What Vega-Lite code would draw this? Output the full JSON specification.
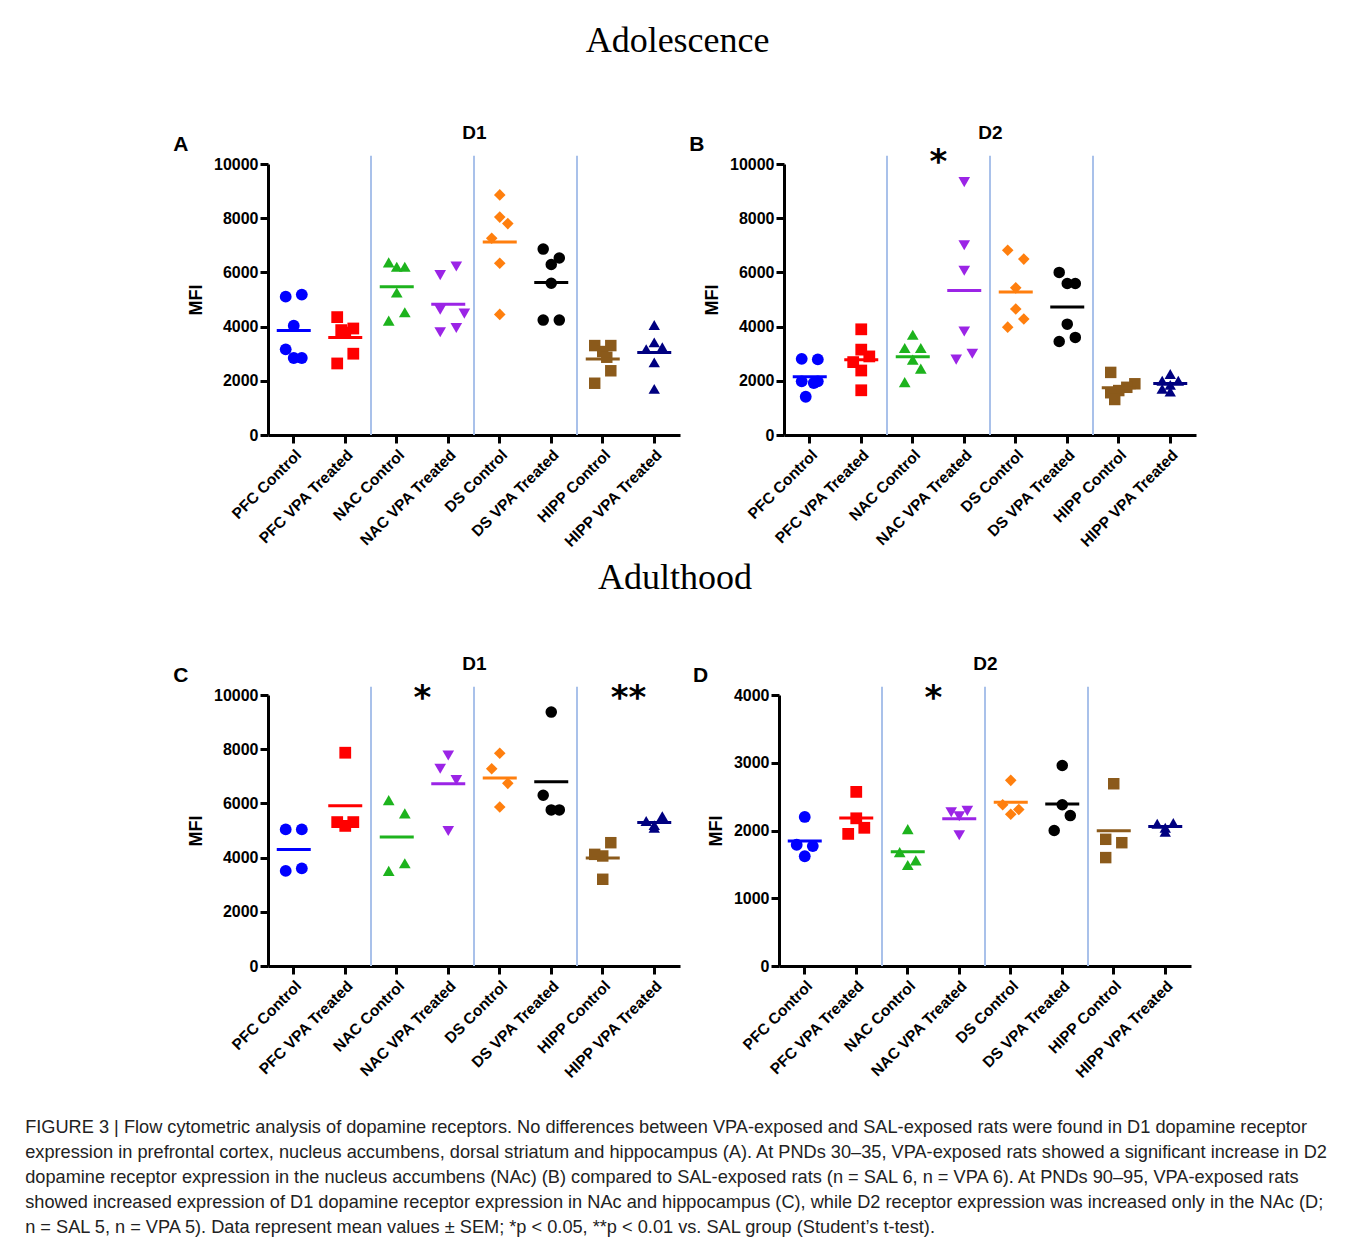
{
  "$schema": "https://vega.github.io/schema/vega-lite/v6.json",
  "background": "white",
  "padding": {"left": 25, "top": 23, "right": 0, "bottom": 0},
  "config": {
    "view": {"stroke": null},
    "font": "Liberation Sans",
    "axis": {"domainColor": "black", "domainWidth": 3, "tickColor": "black", "tickWidth": 3, "tickSize": 8, "labelFont": "Liberation Sans", "labelFontWeight": "bold", "labelColor": "black", "grid": false, "titleFont": "Liberation Sans", "titleFontWeight": "bold", "titleColor": "black"}
  },
  "datasets": {
    "pts": [
      {"panel":"A","group":"PFC Control","v":5105,"slot":-1},{"panel":"A","group":"PFC Control","v":5180,"slot":1},{"panel":"A","group":"PFC Control","v":4030,"slot":0},{"panel":"A","group":"PFC Control","v":3160,"slot":-1},{"panel":"A","group":"PFC Control","v":2840,"slot":0},{"panel":"A","group":"PFC Control","v":2840,"slot":1},
      {"panel":"A","group":"PFC VPA Treated","v":4350,"slot":-1},{"panel":"A","group":"PFC VPA Treated","v":3870,"slot":-0.5},{"panel":"A","group":"PFC VPA Treated","v":3930,"slot":1},{"panel":"A","group":"PFC VPA Treated","v":3780,"slot":0},{"panel":"A","group":"PFC VPA Treated","v":3000,"slot":1},{"panel":"A","group":"PFC VPA Treated","v":2640,"slot":-1},
      {"panel":"A","group":"NAC Control","v":6370,"slot":-1},{"panel":"A","group":"NAC Control","v":6210,"slot":0},{"panel":"A","group":"NAC Control","v":6210,"slot":1},{"panel":"A","group":"NAC Control","v":5260,"slot":0},{"panel":"A","group":"NAC Control","v":4530,"slot":1},{"panel":"A","group":"NAC Control","v":4220,"slot":-1},
      {"panel":"A","group":"NAC VPA Treated","v":6220,"slot":1},{"panel":"A","group":"NAC VPA Treated","v":5900,"slot":-1},{"panel":"A","group":"NAC VPA Treated","v":4620,"slot":-1},{"panel":"A","group":"NAC VPA Treated","v":4480,"slot":2},{"panel":"A","group":"NAC VPA Treated","v":3950,"slot":1},{"panel":"A","group":"NAC VPA Treated","v":3790,"slot":-1},
      {"panel":"A","group":"DS Control","v":8860,"slot":0},{"panel":"A","group":"DS Control","v":8040,"slot":0},{"panel":"A","group":"DS Control","v":7800,"slot":1},{"panel":"A","group":"DS Control","v":7260,"slot":-1},{"panel":"A","group":"DS Control","v":6340,"slot":0},{"panel":"A","group":"DS Control","v":4450,"slot":0},
      {"panel":"A","group":"DS VPA Treated","v":6860,"slot":-1},{"panel":"A","group":"DS VPA Treated","v":6530,"slot":1},{"panel":"A","group":"DS VPA Treated","v":6290,"slot":0},{"panel":"A","group":"DS VPA Treated","v":5600,"slot":0},{"panel":"A","group":"DS VPA Treated","v":4240,"slot":-1},{"panel":"A","group":"DS VPA Treated","v":4240,"slot":1},
      {"panel":"A","group":"HIPP Control","v":3300,"slot":-1},{"panel":"A","group":"HIPP Control","v":3300,"slot":1},{"panel":"A","group":"HIPP Control","v":3080,"slot":0},{"panel":"A","group":"HIPP Control","v":2870,"slot":0.5},{"panel":"A","group":"HIPP Control","v":2370,"slot":1},{"panel":"A","group":"HIPP Control","v":1910,"slot":-1},
      {"panel":"A","group":"HIPP VPA Treated","v":4060,"slot":0},{"panel":"A","group":"HIPP VPA Treated","v":3420,"slot":0},{"panel":"A","group":"HIPP VPA Treated","v":3240,"slot":1},{"panel":"A","group":"HIPP VPA Treated","v":3170,"slot":-1},{"panel":"A","group":"HIPP VPA Treated","v":2680,"slot":0},{"panel":"A","group":"HIPP VPA Treated","v":1700,"slot":0},

      {"panel":"B","group":"PFC Control","v":2810,"slot":-1},{"panel":"B","group":"PFC Control","v":2790,"slot":1},{"panel":"B","group":"PFC Control","v":1980,"slot":-1},{"panel":"B","group":"PFC Control","v":1980,"slot":1},{"panel":"B","group":"PFC Control","v":1920,"slot":0.5},{"panel":"B","group":"PFC Control","v":1410,"slot":-0.5},
      {"panel":"B","group":"PFC VPA Treated","v":3900,"slot":0},{"panel":"B","group":"PFC VPA Treated","v":3150,"slot":0},{"panel":"B","group":"PFC VPA Treated","v":2900,"slot":1},{"panel":"B","group":"PFC VPA Treated","v":2690,"slot":-1},{"panel":"B","group":"PFC VPA Treated","v":2380,"slot":0},{"panel":"B","group":"PFC VPA Treated","v":1650,"slot":0},
      {"panel":"B","group":"NAC Control","v":3700,"slot":0},{"panel":"B","group":"NAC Control","v":3210,"slot":-1},{"panel":"B","group":"NAC Control","v":3210,"slot":1},{"panel":"B","group":"NAC Control","v":2780,"slot":0},{"panel":"B","group":"NAC Control","v":2450,"slot":1},{"panel":"B","group":"NAC Control","v":1950,"slot":-1},
      {"panel":"B","group":"NAC VPA Treated","v":9330,"slot":0},{"panel":"B","group":"NAC VPA Treated","v":7000,"slot":0},{"panel":"B","group":"NAC VPA Treated","v":6060,"slot":0},{"panel":"B","group":"NAC VPA Treated","v":3820,"slot":0},{"panel":"B","group":"NAC VPA Treated","v":3000,"slot":1},{"panel":"B","group":"NAC VPA Treated","v":2780,"slot":-1},
      {"panel":"B","group":"DS Control","v":6820,"slot":-1},{"panel":"B","group":"DS Control","v":6490,"slot":1},{"panel":"B","group":"DS Control","v":5430,"slot":0},{"panel":"B","group":"DS Control","v":4650,"slot":0},{"panel":"B","group":"DS Control","v":4280,"slot":1},{"panel":"B","group":"DS Control","v":3980,"slot":-1},
      {"panel":"B","group":"DS VPA Treated","v":6000,"slot":-1},{"panel":"B","group":"DS VPA Treated","v":5590,"slot":0},{"panel":"B","group":"DS VPA Treated","v":5590,"slot":1},{"panel":"B","group":"DS VPA Treated","v":4090,"slot":0},{"panel":"B","group":"DS VPA Treated","v":3600,"slot":1},{"panel":"B","group":"DS VPA Treated","v":3450,"slot":-1},
      {"panel":"B","group":"HIPP Control","v":2310,"slot":-1},{"panel":"B","group":"HIPP Control","v":1890,"slot":2},{"panel":"B","group":"HIPP Control","v":1760,"slot":1},{"panel":"B","group":"HIPP Control","v":1640,"slot":0},{"panel":"B","group":"HIPP Control","v":1560,"slot":-1},{"panel":"B","group":"HIPP Control","v":1310,"slot":-0.5},
      {"panel":"B","group":"HIPP VPA Treated","v":2250,"slot":0},{"panel":"B","group":"HIPP VPA Treated","v":2000,"slot":-1},{"panel":"B","group":"HIPP VPA Treated","v":2000,"slot":1},{"panel":"B","group":"HIPP VPA Treated","v":1850,"slot":0},{"panel":"B","group":"HIPP VPA Treated","v":1700,"slot":-1},{"panel":"B","group":"HIPP VPA Treated","v":1600,"slot":0},

      {"panel":"C","group":"PFC Control","v":5040,"slot":-1},{"panel":"C","group":"PFC Control","v":5040,"slot":1},{"panel":"C","group":"PFC Control","v":3510,"slot":-1},{"panel":"C","group":"PFC Control","v":3600,"slot":1},
      {"panel":"C","group":"PFC VPA Treated","v":7870,"slot":0},{"panel":"C","group":"PFC VPA Treated","v":5310,"slot":-1},{"panel":"C","group":"PFC VPA Treated","v":5310,"slot":1},{"panel":"C","group":"PFC VPA Treated","v":5170,"slot":0},
      {"panel":"C","group":"NAC Control","v":6120,"slot":-1},{"panel":"C","group":"NAC Control","v":5630,"slot":1},{"panel":"C","group":"NAC Control","v":3790,"slot":1},{"panel":"C","group":"NAC Control","v":3510,"slot":-1},
      {"panel":"C","group":"NAC VPA Treated","v":7770,"slot":0},{"panel":"C","group":"NAC VPA Treated","v":7280,"slot":-1},{"panel":"C","group":"NAC VPA Treated","v":6860,"slot":1},{"panel":"C","group":"NAC VPA Treated","v":4980,"slot":0},
      {"panel":"C","group":"DS Control","v":7850,"slot":0},{"panel":"C","group":"DS Control","v":7280,"slot":-1},{"panel":"C","group":"DS Control","v":6740,"slot":1},{"panel":"C","group":"DS Control","v":5870,"slot":0},
      {"panel":"C","group":"DS VPA Treated","v":9370,"slot":0},{"panel":"C","group":"DS VPA Treated","v":6300,"slot":-1},{"panel":"C","group":"DS VPA Treated","v":5760,"slot":0},{"panel":"C","group":"DS VPA Treated","v":5760,"slot":1},
      {"panel":"C","group":"HIPP Control","v":4550,"slot":1},{"panel":"C","group":"HIPP Control","v":4120,"slot":-1},{"panel":"C","group":"HIPP Control","v":4060,"slot":0},{"panel":"C","group":"HIPP Control","v":3200,"slot":0},
      {"panel":"C","group":"HIPP VPA Treated","v":5530,"slot":1},{"panel":"C","group":"HIPP VPA Treated","v":5350,"slot":-1},{"panel":"C","group":"HIPP VPA Treated","v":5200,"slot":0},{"panel":"C","group":"HIPP VPA Treated","v":5100,"slot":0},

      {"panel":"D","group":"PFC Control","v":2200,"slot":0},{"panel":"D","group":"PFC Control","v":1790,"slot":-1},{"panel":"D","group":"PFC Control","v":1770,"slot":1},{"panel":"D","group":"PFC Control","v":1620,"slot":0},
      {"panel":"D","group":"PFC VPA Treated","v":2570,"slot":0},{"panel":"D","group":"PFC VPA Treated","v":2180,"slot":0},{"panel":"D","group":"PFC VPA Treated","v":2040,"slot":1},{"panel":"D","group":"PFC VPA Treated","v":1950,"slot":-1},
      {"panel":"D","group":"NAC Control","v":2020,"slot":0},{"panel":"D","group":"NAC Control","v":1680,"slot":-1},{"panel":"D","group":"NAC Control","v":1560,"slot":1},{"panel":"D","group":"NAC Control","v":1490,"slot":0},
      {"panel":"D","group":"NAC VPA Treated","v":2270,"slot":-1},{"panel":"D","group":"NAC VPA Treated","v":2290,"slot":1},{"panel":"D","group":"NAC VPA Treated","v":2210,"slot":0},{"panel":"D","group":"NAC VPA Treated","v":1930,"slot":0},
      {"panel":"D","group":"DS Control","v":2740,"slot":0},{"panel":"D","group":"DS Control","v":2380,"slot":-1},{"panel":"D","group":"DS Control","v":2310,"slot":1},{"panel":"D","group":"DS Control","v":2240,"slot":0},
      {"panel":"D","group":"DS VPA Treated","v":2960,"slot":0},{"panel":"D","group":"DS VPA Treated","v":2380,"slot":0},{"panel":"D","group":"DS VPA Treated","v":2220,"slot":1},{"panel":"D","group":"DS VPA Treated","v":2000,"slot":-1},
      {"panel":"D","group":"HIPP Control","v":2690,"slot":0},{"panel":"D","group":"HIPP Control","v":1870,"slot":-1},{"panel":"D","group":"HIPP Control","v":1820,"slot":1},{"panel":"D","group":"HIPP Control","v":1600,"slot":-1},
      {"panel":"D","group":"HIPP VPA Treated","v":2100,"slot":-1},{"panel":"D","group":"HIPP VPA Treated","v":2110,"slot":1},{"panel":"D","group":"HIPP VPA Treated","v":2040,"slot":0},{"panel":"D","group":"HIPP VPA Treated","v":1980,"slot":0}
    ],
    "seps": [{"after":"PFC VPA Treated"},{"after":"NAC VPA Treated"},{"after":"DS VPA Treated"}],
    "stars": [
      {"panel":"B","group":"NAC Control","label":"*","mfi":9670},
      {"panel":"C","group":"NAC Control","label":"*","mfi":9490},
      {"panel":"C","group":"HIPP Control","label":"**","mfi":9490},
      {"panel":"D","group":"NAC Control","label":"*","mfi":3795}
    ]
  },
  "title": {
    "text": [
      "FIGURE 3 | Flow cytometric analysis of dopamine receptors. No differences between VPA-exposed and SAL-exposed rats were found in D1 dopamine receptor",
      "expression in prefrontal cortex, nucleus accumbens, dorsal striatum and hippocampus (A). At PNDs 30–35, VPA-exposed rats showed a significant increase in D2",
      "dopamine receptor expression in the nucleus accumbens (NAc) (B) compared to SAL-exposed rats (n = SAL 6, n = VPA 6). At PNDs 90–95, VPA-exposed rats",
      "showed increased expression of D1 dopamine receptor expression in NAc and hippocampus (C), while D2 receptor expression was increased only in the NAc (D;",
      "n = SAL 5, n = VPA 5). Data represent mean values ± SEM; *p < 0.05, **p < 0.01 vs. SAL group (Student’s t-test)."
    ],
    "orient": "bottom", "anchor": "start", "frame": "bounds", "dx": -148,
    "font": "Liberation Sans", "fontSize": 18.2, "fontWeight": "normal", "color": "#222222", "lineHeight": 25, "offset": 38
  },
  "spacing": 9,
  "vconcat": [
    {
      "title": {"text": "Adolescence", "font": "Liberation Serif", "fontSize": 36, "fontWeight": "normal", "color": "black", "anchor": "middle", "offset": 63, "dx": -7},
      "spacing": 9,
      "hconcat": [
        {
          "width": 412, "height": 271,
          "title": {"text": "A", "orient": "left", "anchor": "end", "angle": 0, "align": "right", "baseline": "alphabetic", "fontSize": 21, "fontWeight": "bold", "font": "Liberation Sans", "color": "black", "offset": -16, "dy": -13, "frame": "group"},
          "resolve": {"axis": {"x": "independent"}},
          "layer": [
            {"data": {"name": "seps"}, "mark": {"type": "rule", "color": "#a9c1ea", "strokeWidth": 2},
             "encoding": {
               "x": {"field": "after", "type": "nominal", "bandPosition": 1, "scale": {"domain": ["PFC Control","PFC VPA Treated","NAC Control","NAC VPA Treated","DS Control","DS VPA Treated","HIPP Control","HIPP VPA Treated"], "paddingInner": 0, "paddingOuter": 0}, "axis": {"orient": "top", "title": "D1", "labels": false, "ticks": false, "domain": false, "titleFontSize": 19, "titlePadding": 22}},
               "y": {"datum": 0, "type": "quantitative"},
               "y2": {"datum": 10300}}},
            {"data": {"name": "pts"}, "transform": [{"filter": "datum.panel === 'A'"}], "mark": {"type": "point", "filled": true, "opacity": 1},
             "encoding": {
               "x": {"field": "group", "type": "nominal", "scale": {"domain": ["PFC Control","PFC VPA Treated","NAC Control","NAC VPA Treated","DS Control","DS VPA Treated","HIPP Control","HIPP VPA Treated"], "paddingInner": 0, "paddingOuter": 0}, "axis": {"orient": "bottom", "title": null, "labelAngle": -45, "labelFontSize": 15.5, "labelPadding": 4}},
               "xOffset": {"field": "slot", "type": "quantitative", "scale": {"domain": [-3.2, 3.2]}},
               "y": {"field": "v", "type": "quantitative", "scale": {"domain": [0, 10000], "nice": false}, "axis": {"title": "MFI", "values": [0,2000,4000,6000,8000,10000], "format": "d", "labelFontSize": 16, "labelPadding": 2, "titleFontSize": 18, "titlePadding": 8, "labelOverlap": false}},
               "color": {"field": "group", "type": "nominal", "legend": null, "scale": {"domain": ["PFC Control","PFC VPA Treated","NAC Control","NAC VPA Treated","DS Control","DS VPA Treated","HIPP Control","HIPP VPA Treated"], "range": ["#0000ff","#ff0000","#1db31d","#9b24e6","#ff7f0e","#000000","#8b5a1b","#000080"]}},
               "shape": {"field": "group", "type": "nominal", "legend": null, "scale": {"domain": ["PFC Control","PFC VPA Treated","NAC Control","NAC VPA Treated","DS Control","DS VPA Treated","HIPP Control","HIPP VPA Treated"], "range": ["circle","square","triangle-up","triangle-down","diamond","circle","square","triangle-up"]}},
               "size": {"field": "group", "type": "ordinal", "legend": null, "scale": {"domain": ["PFC Control","PFC VPA Treated","NAC Control","NAC VPA Treated","DS Control","DS VPA Treated","HIPP Control","HIPP VPA Treated"], "range": [140,130,170,150,90,300,260,300]}}}},
            {"data": {"name": "pts"}, "transform": [{"filter": "datum.panel === 'A'"}], "mark": {"type": "tick", "thickness": 3, "size": 34, "orient": "horizontal"},
             "encoding": {
               "x": {"field": "group", "type": "nominal", "axis": null},
               "y": {"aggregate": "mean", "field": "v", "type": "quantitative"},
               "color": {"field": "group", "type": "nominal", "legend": null}}}
          ]
        },
        {
          "width": 412, "height": 271,
          "title": {"text": "B", "orient": "left", "anchor": "end", "angle": 0, "align": "right", "baseline": "alphabetic", "fontSize": 21, "fontWeight": "bold", "font": "Liberation Sans", "color": "black", "offset": -16, "dy": -13, "frame": "group"},
          "resolve": {"axis": {"x": "independent"}},
          "layer": [
            {"data": {"name": "seps"}, "mark": {"type": "rule", "color": "#a9c1ea", "strokeWidth": 2},
             "encoding": {
               "x": {"field": "after", "type": "nominal", "bandPosition": 1, "scale": {"domain": ["PFC Control","PFC VPA Treated","NAC Control","NAC VPA Treated","DS Control","DS VPA Treated","HIPP Control","HIPP VPA Treated"], "paddingInner": 0, "paddingOuter": 0}, "axis": {"orient": "top", "title": "D2", "labels": false, "ticks": false, "domain": false, "titleFontSize": 19, "titlePadding": 22}},
               "y": {"datum": 0, "type": "quantitative"},
               "y2": {"datum": 10300}}},
            {"data": {"name": "pts"}, "transform": [{"filter": "datum.panel === 'B'"}], "mark": {"type": "point", "filled": true, "opacity": 1},
             "encoding": {
               "x": {"field": "group", "type": "nominal", "scale": {"domain": ["PFC Control","PFC VPA Treated","NAC Control","NAC VPA Treated","DS Control","DS VPA Treated","HIPP Control","HIPP VPA Treated"], "paddingInner": 0, "paddingOuter": 0}, "axis": {"orient": "bottom", "title": null, "labelAngle": -45, "labelFontSize": 15.5, "labelPadding": 4}},
               "xOffset": {"field": "slot", "type": "quantitative", "scale": {"domain": [-3.2, 3.2]}},
               "y": {"field": "v", "type": "quantitative", "scale": {"domain": [0, 10000], "nice": false}, "axis": {"title": "MFI", "values": [0,2000,4000,6000,8000,10000], "format": "d", "labelFontSize": 16, "labelPadding": 2, "titleFontSize": 18, "titlePadding": 8, "labelOverlap": false}},
               "color": {"field": "group", "type": "nominal", "legend": null, "scale": {"domain": ["PFC Control","PFC VPA Treated","NAC Control","NAC VPA Treated","DS Control","DS VPA Treated","HIPP Control","HIPP VPA Treated"], "range": ["#0000ff","#ff0000","#1db31d","#9b24e6","#ff7f0e","#000000","#8b5a1b","#000080"]}},
               "shape": {"field": "group", "type": "nominal", "legend": null, "scale": {"domain": ["PFC Control","PFC VPA Treated","NAC Control","NAC VPA Treated","DS Control","DS VPA Treated","HIPP Control","HIPP VPA Treated"], "range": ["circle","square","triangle-up","triangle-down","diamond","circle","square","triangle-up"]}},
               "size": {"field": "group", "type": "ordinal", "legend": null, "scale": {"domain": ["PFC Control","PFC VPA Treated","NAC Control","NAC VPA Treated","DS Control","DS VPA Treated","HIPP Control","HIPP VPA Treated"], "range": [140,130,170,150,90,300,260,300]}}}},
            {"data": {"name": "pts"}, "transform": [{"filter": "datum.panel === 'B'"}], "mark": {"type": "tick", "thickness": 3, "size": 34, "orient": "horizontal"},
             "encoding": {
               "x": {"field": "group", "type": "nominal", "axis": null},
               "y": {"aggregate": "mean", "field": "v", "type": "quantitative"},
               "color": {"field": "group", "type": "nominal", "legend": null}}},
            {"data": {"name": "stars"}, "transform": [{"filter": "datum.panel === 'B'"}], "mark": {"type": "text", "font": "DejaVu Sans", "fontWeight": "bold", "fontSize": 34, "baseline": "alphabetic", "align": "center", "color": "black"},
             "encoding": {
               "x": {"field": "group", "type": "nominal", "bandPosition": 1, "axis": null},
               "y": {"field": "mfi", "type": "quantitative"},
               "text": {"field": "label"}}}
          ]
        }
      ]
    },
    {
      "title": {"text": "Adulthood", "font": "Liberation Serif", "fontSize": 36, "fontWeight": "normal", "color": "black", "anchor": "middle", "offset": 57, "dx": -7},
      "spacing": 13,
      "hconcat": [
        {
          "width": 412, "height": 271,
          "title": {"text": "C", "orient": "left", "anchor": "end", "angle": 0, "align": "right", "baseline": "alphabetic", "fontSize": 21, "fontWeight": "bold", "font": "Liberation Sans", "color": "black", "offset": -16, "dy": -13, "frame": "group"},
          "resolve": {"axis": {"x": "independent"}},
          "layer": [
            {"data": {"name": "seps"}, "mark": {"type": "rule", "color": "#a9c1ea", "strokeWidth": 2},
             "encoding": {
               "x": {"field": "after", "type": "nominal", "bandPosition": 1, "scale": {"domain": ["PFC Control","PFC VPA Treated","NAC Control","NAC VPA Treated","DS Control","DS VPA Treated","HIPP Control","HIPP VPA Treated"], "paddingInner": 0, "paddingOuter": 0}, "axis": {"orient": "top", "title": "D1", "labels": false, "ticks": false, "domain": false, "titleFontSize": 19, "titlePadding": 22}},
               "y": {"datum": 0, "type": "quantitative"},
               "y2": {"datum": 10300}}},
            {"data": {"name": "pts"}, "transform": [{"filter": "datum.panel === 'C'"}], "mark": {"type": "point", "filled": true, "opacity": 1},
             "encoding": {
               "x": {"field": "group", "type": "nominal", "scale": {"domain": ["PFC Control","PFC VPA Treated","NAC Control","NAC VPA Treated","DS Control","DS VPA Treated","HIPP Control","HIPP VPA Treated"], "paddingInner": 0, "paddingOuter": 0}, "axis": {"orient": "bottom", "title": null, "labelAngle": -45, "labelFontSize": 15.5, "labelPadding": 4}},
               "xOffset": {"field": "slot", "type": "quantitative", "scale": {"domain": [-3.2, 3.2]}},
               "y": {"field": "v", "type": "quantitative", "scale": {"domain": [0, 10000], "nice": false}, "axis": {"title": "MFI", "values": [0,2000,4000,6000,8000,10000], "format": "d", "labelFontSize": 16, "labelPadding": 2, "titleFontSize": 18, "titlePadding": 8, "labelOverlap": false}},
               "color": {"field": "group", "type": "nominal", "legend": null, "scale": {"domain": ["PFC Control","PFC VPA Treated","NAC Control","NAC VPA Treated","DS Control","DS VPA Treated","HIPP Control","HIPP VPA Treated"], "range": ["#0000ff","#ff0000","#1db31d","#9b24e6","#ff7f0e","#000000","#8b5a1b","#000080"]}},
               "shape": {"field": "group", "type": "nominal", "legend": null, "scale": {"domain": ["PFC Control","PFC VPA Treated","NAC Control","NAC VPA Treated","DS Control","DS VPA Treated","HIPP Control","HIPP VPA Treated"], "range": ["circle","square","triangle-up","triangle-down","diamond","circle","square","triangle-up"]}},
               "size": {"field": "group", "type": "ordinal", "legend": null, "scale": {"domain": ["PFC Control","PFC VPA Treated","NAC Control","NAC VPA Treated","DS Control","DS VPA Treated","HIPP Control","HIPP VPA Treated"], "range": [140,130,170,150,90,300,260,300]}}}},
            {"data": {"name": "pts"}, "transform": [{"filter": "datum.panel === 'C'"}], "mark": {"type": "tick", "thickness": 3, "size": 34, "orient": "horizontal"},
             "encoding": {
               "x": {"field": "group", "type": "nominal", "axis": null},
               "y": {"aggregate": "mean", "field": "v", "type": "quantitative"},
               "color": {"field": "group", "type": "nominal", "legend": null}}},
            {"data": {"name": "stars"}, "transform": [{"filter": "datum.panel === 'C'"}], "mark": {"type": "text", "font": "DejaVu Sans", "fontWeight": "bold", "fontSize": 34, "baseline": "alphabetic", "align": "center", "color": "black"},
             "encoding": {
               "x": {"field": "group", "type": "nominal", "bandPosition": 1, "axis": null},
               "y": {"field": "mfi", "type": "quantitative"},
               "text": {"field": "label"}}}
          ]
        },
        {
          "width": 412, "height": 271,
          "title": {"text": "D", "orient": "left", "anchor": "end", "angle": 0, "align": "right", "baseline": "alphabetic", "fontSize": 21, "fontWeight": "bold", "font": "Liberation Sans", "color": "black", "offset": -16, "dy": -13, "frame": "group"},
          "resolve": {"axis": {"x": "independent"}},
          "layer": [
            {"data": {"name": "seps"}, "mark": {"type": "rule", "color": "#a9c1ea", "strokeWidth": 2},
             "encoding": {
               "x": {"field": "after", "type": "nominal", "bandPosition": 1, "scale": {"domain": ["PFC Control","PFC VPA Treated","NAC Control","NAC VPA Treated","DS Control","DS VPA Treated","HIPP Control","HIPP VPA Treated"], "paddingInner": 0, "paddingOuter": 0}, "axis": {"orient": "top", "title": "D2", "labels": false, "ticks": false, "domain": false, "titleFontSize": 19, "titlePadding": 22}},
               "y": {"datum": 0, "type": "quantitative"},
               "y2": {"datum": 4120}}},
            {"data": {"name": "pts"}, "transform": [{"filter": "datum.panel === 'D'"}], "mark": {"type": "point", "filled": true, "opacity": 1},
             "encoding": {
               "x": {"field": "group", "type": "nominal", "scale": {"domain": ["PFC Control","PFC VPA Treated","NAC Control","NAC VPA Treated","DS Control","DS VPA Treated","HIPP Control","HIPP VPA Treated"], "paddingInner": 0, "paddingOuter": 0}, "axis": {"orient": "bottom", "title": null, "labelAngle": -45, "labelFontSize": 15.5, "labelPadding": 4}},
               "xOffset": {"field": "slot", "type": "quantitative", "scale": {"domain": [-3.2, 3.2]}},
               "y": {"field": "v", "type": "quantitative", "scale": {"domain": [0, 4000], "nice": false}, "axis": {"title": "MFI", "values": [0,1000,2000,3000,4000], "format": "d", "labelFontSize": 16, "labelPadding": 2, "titleFontSize": 18, "titlePadding": 8, "labelOverlap": false}},
               "color": {"field": "group", "type": "nominal", "legend": null, "scale": {"domain": ["PFC Control","PFC VPA Treated","NAC Control","NAC VPA Treated","DS Control","DS VPA Treated","HIPP Control","HIPP VPA Treated"], "range": ["#0000ff","#ff0000","#1db31d","#9b24e6","#ff7f0e","#000000","#8b5a1b","#000080"]}},
               "shape": {"field": "group", "type": "nominal", "legend": null, "scale": {"domain": ["PFC Control","PFC VPA Treated","NAC Control","NAC VPA Treated","DS Control","DS VPA Treated","HIPP Control","HIPP VPA Treated"], "range": ["circle","square","triangle-up","triangle-down","diamond","circle","square","triangle-up"]}},
               "size": {"field": "group", "type": "ordinal", "legend": null, "scale": {"domain": ["PFC Control","PFC VPA Treated","NAC Control","NAC VPA Treated","DS Control","DS VPA Treated","HIPP Control","HIPP VPA Treated"], "range": [140,130,170,150,90,300,260,300]}}}},
            {"data": {"name": "pts"}, "transform": [{"filter": "datum.panel === 'D'"}], "mark": {"type": "tick", "thickness": 3, "size": 34, "orient": "horizontal"},
             "encoding": {
               "x": {"field": "group", "type": "nominal", "axis": null},
               "y": {"aggregate": "mean", "field": "v", "type": "quantitative"},
               "color": {"field": "group", "type": "nominal", "legend": null}}},
            {"data": {"name": "stars"}, "transform": [{"filter": "datum.panel === 'D'"}], "mark": {"type": "text", "font": "DejaVu Sans", "fontWeight": "bold", "fontSize": 34, "baseline": "alphabetic", "align": "center", "color": "black"},
             "encoding": {
               "x": {"field": "group", "type": "nominal", "bandPosition": 1, "axis": null},
               "y": {"field": "mfi", "type": "quantitative"},
               "text": {"field": "label"}}}
          ]
        }
      ]
    }
  ]
}
